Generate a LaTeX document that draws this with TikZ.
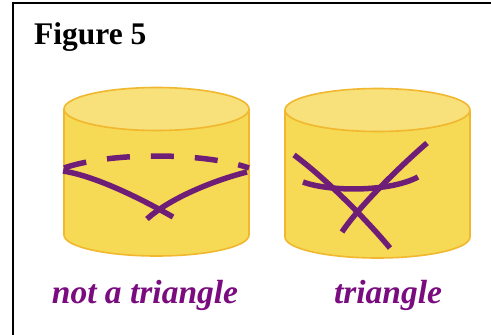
\documentclass[tikz,border=0pt]{standalone}
\usepackage{fontspec}
\setmainfont{Liberation Serif}
\usepackage{tikz}
\definecolor{drumtop}{RGB}{248,224,122}
\definecolor{drumside}{RGB}{246,217,85}
\definecolor{drumrim}{RGB}{241,183,46}
\definecolor{cutline}{RGB}{111,30,120}
\definecolor{labelink}{RGB}{122,12,128}

% cylinder: centre x, top centre y, bottom centre y
\newcommand{\drum}[3]{%
	\fill[drumside] (#1-92.5,#2) -- (#1-92.5,#3)
		arc[start angle=180, end angle=0, x radius=92.5, y radius=21]
		-- (#1+92.5,#2) -- cycle;
	\draw[rim] (#1-92.5,#2) -- (#1-92.5,#3)
		arc[start angle=180, end angle=0, x radius=92.5, y radius=21]
		-- (#1+92.5,#2);
	\draw[rim, fill=drumtop] (#1,#2) ellipse[x radius=92.5, y radius=21.5];}

\begin{document}
\begin{tikzpicture}[x=1pt, y=-1pt,
		rim/.style={draw=drumrim, line width=1.6pt},
		trace/.style={cutline, line width=5.5pt},
		lbl/.style={anchor=base, inner sep=0pt, text=labelink,
			font=\fontsize{33.5}{36}\selectfont\bfseries\itshape}]
	\useasboundingbox (0,0) rectangle (491,335);
	\fill[white] (0,0) rectangle (491,335);
	% frame, running off the right and bottom edges
	\draw[line width=2pt] (13,345) -- (13,3) -- (500,3);
	\node[anchor=base west, inner sep=0pt,
		font=\fontsize{31.5}{34}\selectfont\bfseries] (title) at (34,44) {Figure 5};

	% left drum: the cut does not close up
	\drum{156.5}{109}{235}
	\draw[trace, dash pattern=on 23pt off 21pt]
		(64,168) .. controls (110,152) and (203,152) .. (249,168);
	\draw[trace] (63,171) .. controls (95,176) and (140,198) .. (173,217);
	\draw[trace] (247,172) .. controls (215,180) and (170,198) .. (147,219);

	% right drum: three cuts meeting pairwise
	\drum{377.5}{110}{237}
	\draw[trace] (294,155) .. controls (324,177) and (365,218) .. (390,248);
	\draw[trace] (427,143) .. controls (397,169) and (357,209) .. (342,232);
	\draw[trace] (303,182) .. controls (330,192) and (390,192) .. (418,177);

	\node[lbl] (nottri) at (145,303) {not a triangle};
	\node[lbl] (tri) at (388,303) {triangle};
\end{tikzpicture}
\end{document}
